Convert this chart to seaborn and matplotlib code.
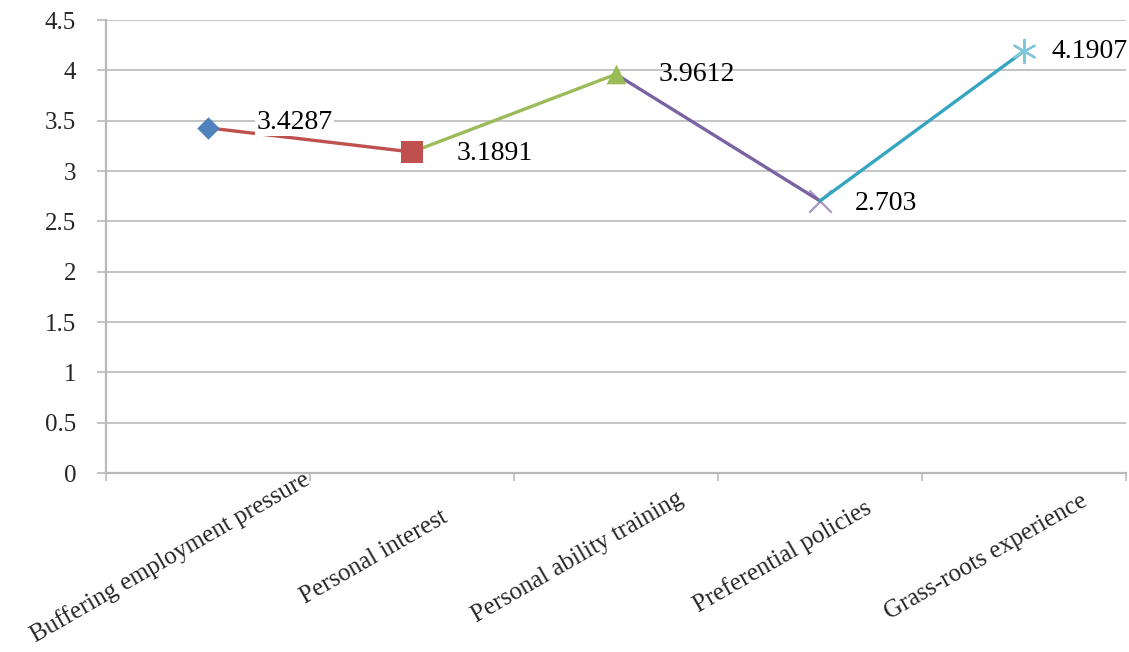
import numpy as np
import pandas as pd
import matplotlib
matplotlib.use("Agg")
import matplotlib.pyplot as plt
import matplotlib.transforms as mtransforms
import seaborn as sns

# --- data ---
categories = ["Buffering employment pressure", "Personal interest",
              "Personal ability training", "Preferential policies",
              "Grass-roots experience"]
values = [3.4287, 3.1891, 3.9612, 2.703, 4.1907]
y_ticks = [0, 0.5, 1, 1.5, 2, 2.5, 3, 3.5, 4, 4.5]

# Excel 2007 style colours, one per point
point_colors = ["#4F81BD", "#C0504D", "#9BBB59", "#A898C8", "#7FC8DC"]
line_colors = ["#4F81BD", "#C0504D", "#9BBB59", "#7B62A3", "#36A5C2"]
markers = ["D", "s", "^", "x", (6, 2, 0)]
marker_sizes = [130, 230, 200, 260, 280]
# label offsets (points) to the right of each point
label_dx = [35, 32, 31, 25, 20]
label_dy = [4, -1, 0, -2, 0]

sns.set_style("white")
plt.rcParams["font.family"] = ["Liberation Serif", "DejaVu Serif"]

df = pd.DataFrame({"pos": np.arange(len(categories)), "value": values,
                   "category": categories})

fig = plt.figure(figsize=(11.29, 6.52), dpi=100)
ax = fig.add_axes([0.0939, 0.2745, 0.9034, 0.6948])

grid_col = "#C4C4C4"
for t in y_ticks[1:]:
    ax.axhline(t, color=grid_col, lw=1.4, zorder=1)

# each segment takes the colour of the point it ends on
for i in range(1, len(df)):
    seg = df.iloc[i - 1:i + 1]
    sns.lineplot(data=seg, x="pos", y="value", color=line_colors[i],
                 lw=2.4, ax=ax, zorder=3)

for i, row in df.iterrows():
    lw = 1.6 if i >= 3 else 0
    sns.scatterplot(x=[row["pos"]], y=[row["value"]], marker=markers[i],
                    s=marker_sizes[i], color=point_colors[i],
                    edgecolor=point_colors[i], linewidth=lw, ax=ax,
                    zorder=2.5 if i == 3 else 4, legend=False)

# data labels to the right of each point
for i, row in df.iterrows():
    bbox = dict(facecolor="white", edgecolor="none", pad=1) if i == 0 else None
    ax.annotate(f"{row['value']:g}", (row["pos"], row["value"]),
                xytext=(label_dx[i], label_dy[i]), textcoords="offset points",
                ha="left", va="center", fontsize=20, color="black",
                bbox=bbox, zorder=5)

ax.set_xlim(-0.5, len(categories) - 0.5)
ax.set_ylim(0, 4.5)
ax.set_yticks(y_ticks)
ax.set_yticklabels([f"{t:g}" for t in y_ticks])
ax.set_xlabel("")
ax.set_ylabel("")

# category boundaries carry the tick marks, labels sit at the centres
ax.set_xticks(np.arange(-0.5, len(categories)), labels=[])
ax.set_xticks(df["pos"], labels=categories, minor=True)
ax.tick_params(axis="x", which="major", direction="out", length=6,
               width=1.4, color=grid_col, bottom=True)
ax.tick_params(axis="x", which="minor", length=0, pad=0, labelsize=18)
ax.tick_params(axis="y", direction="out", length=6.5, width=1.4,
               color=grid_col, left=True, pad=15, labelsize=18)

offset = mtransforms.ScaledTranslation(-0.38, -0.84, fig.dpi_scale_trans)
for lab in ax.get_xticklabels(minor=True):
    lab.set_rotation(30)
    lab.set_rotation_mode("anchor")
    lab.set_ha("center")
    lab.set_va("center")
    lab.set_transform(lab.get_transform() + offset)

for side in ["top", "right"]:
    ax.spines[side].set_visible(False)
for side in ["left", "bottom"]:
    ax.spines[side].set_color("#B8B8B8")
    ax.spines[side].set_linewidth(1.6)

fig.savefig("out.png", dpi=100)
